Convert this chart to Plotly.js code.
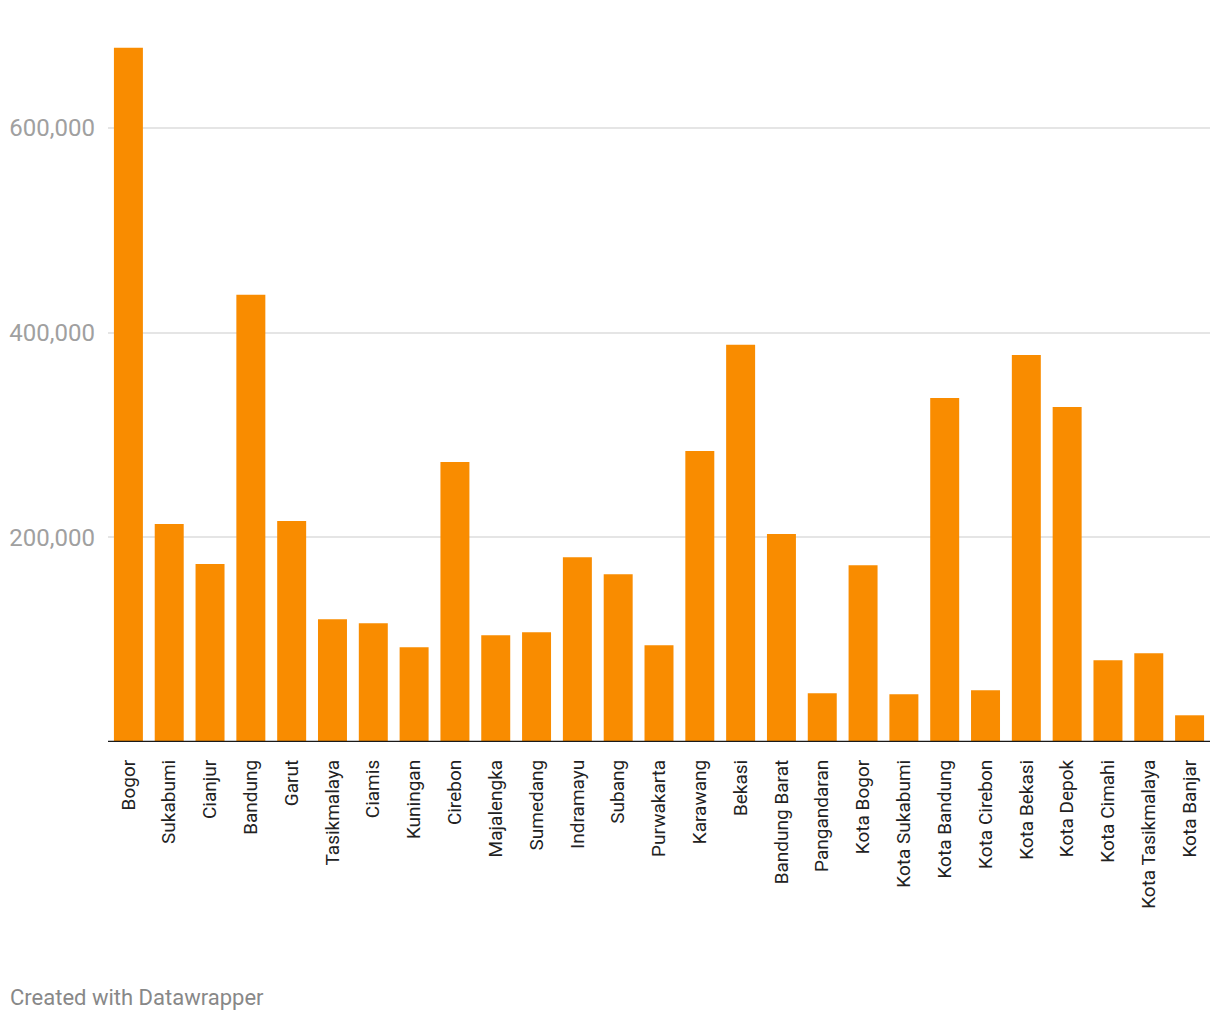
<!DOCTYPE html>
<html>
<head>
<meta charset="utf-8">
<script src="https://cdn.plot.ly/plotly-3.0.1.min.js"></script>
<style>
html,body{margin:0;padding:0;background:#fff;}
#chart{width:1220px;height:1020px;}
</style>
</head>
<body>
<div id="chart"></div>
<script>
const categories = ["Bogor","Sukabumi","Cianjur","Bandung","Garut","Tasikmalaya","Ciamis","Kuningan","Cirebon","Majalengka","Sumedang","Indramayu","Subang","Purwakarta","Karawang","Bekasi","Bandung Barat","Pangandaran","Kota Bogor","Kota Sukabumi","Kota Bandung","Kota Cirebon","Kota Bekasi","Kota Depok","Kota Cimahi","Kota Tasikmalaya","Kota Banjar"];
const values = [678400,212900,173800,436900,215800,120000,116100,92600,273500,104400,107300,180600,164000,94600,284300,388000,203100,47600,172800,46700,336100,50600,378200,327300,79900,86700,26100];
const yTickVals = [200000,400000,600000];
const yTickText = ["200,000","400,000","600,000"];
const footerText = "Created with Datawrapper";

const trace = {
  type: 'bar',
  x: categories,
  y: values,
  marker: {color: '#f98c00'},
  hoverinfo: 'x+y'
};

const layout = {
  width: 1220,
  height: 1020,
  margin: {l: 108, r: 10, t: 46, b: 278},
  paper_bgcolor: '#ffffff',
  plot_bgcolor: '#ffffff',
  bargap: 0.29,
  showlegend: false,
  font: {family: 'Roboto, sans-serif'},
  xaxis: {
    type: 'category',
    tickangle: -90,
    tickfont: {family: 'Roboto, sans-serif', size: 19, color: '#222'},
    showgrid: false,
    showline: false,
    zeroline: false,
    ticks: '',
    ticklabelstandoff: 13,
    fixedrange: true
  },
  yaxis: {
    range: [0, 680000],
    tickvals: yTickVals,
    ticktext: yTickText,
    tickfont: {family: 'Roboto, sans-serif', size: 24, color: '#a0a0a0'},
    showgrid: true,
    gridcolor: '#e5e5e5',
    gridwidth: 2,
    zeroline: false,
    showline: false,
    ticks: '',
    ticklabelstandoff: 12,
    fixedrange: true
  },
  shapes: [{
    type: 'line', xref: 'paper', yref: 'y',
    x0: 0, x1: 1, y0: 0, y1: 0,
    line: {color: '#1a1a1a', width: 2.5}
  }],
  annotations: [{
    text: footerText,
    xref: 'paper', yref: 'paper',
    x: -100/1102, y: -255/696,
    xanchor: 'left', yanchor: 'middle',
    showarrow: false,
    font: {family: 'Roboto, sans-serif', size: 22, color: '#888888'}
  }]
};

Plotly.newPlot('chart', [trace], layout, {displayModeBar: false, staticPlot: true});
</script>
</body>
</html>
